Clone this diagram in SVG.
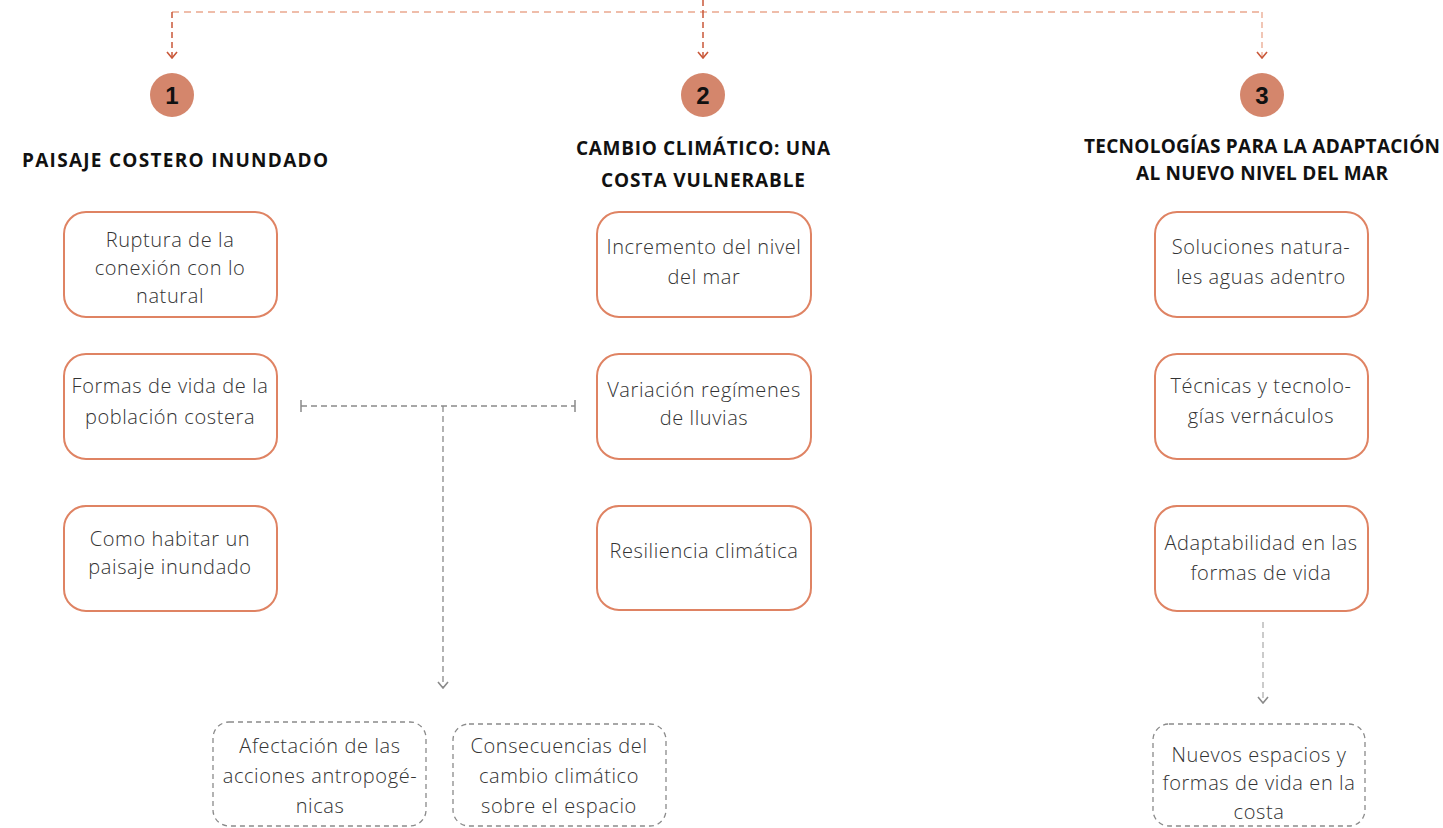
<svg xmlns="http://www.w3.org/2000/svg" width="1443" height="828" viewBox="0 0 1443 828">
<style>
.box{fill:#fff;stroke:#df8363;stroke-width:2}
.dbox{fill:#fff;stroke:#8a8a8a;stroke-width:1.3;stroke-dasharray:5 4}
.t{font-family:"Open Sans","Liberation Sans",sans-serif;font-weight:300;font-size:20px;fill:#333;text-anchor:middle;letter-spacing:0.6px}
.h{font-family:"Open Sans","Liberation Sans",sans-serif;font-weight:700;font-size:19px;fill:#111;text-anchor:middle}
.num{font-family:"Liberation Sans",Arial,sans-serif;font-weight:700;font-size:24px;fill:#111;text-anchor:middle}
.circ{fill:#d4866c}
.top{fill:none;stroke:#eaa88f;stroke-width:1.3;stroke-dasharray:7 5}
.arr{fill:none;stroke:#c9583a;stroke-width:1.5;stroke-dasharray:6 4}
.gl{fill:none;stroke:#8a8a8a;stroke-width:1.3;stroke-dasharray:6 4}
</style>
<defs>
<marker id="ma" viewBox="0 0 8 12" refX="7" refY="6" markerWidth="8" markerHeight="12" markerUnits="userSpaceOnUse" orient="auto">
<path d="M1,1 L7,6 L1,11" fill="none" stroke="#c9583a" stroke-width="1.6"/>
</marker>
<marker id="mg" viewBox="0 0 8 12" refX="7" refY="6" markerWidth="8" markerHeight="12" markerUnits="userSpaceOnUse" orient="auto">
<path d="M1,1 L7,6 L1,11" fill="none" stroke="#8a8a8a" stroke-width="1.6"/>
</marker>
</defs>
<rect width="1443" height="828" fill="#fff"/>

<g id="connectors">
<path class="top" d="M172,12 H1262"/>
<path class="arr" d="M703,0 V12"/>
<path class="arr" d="M172,12 V58" marker-end="url(#ma)"/>
<path class="arr" d="M703,12 V58" marker-end="url(#ma)"/>
<path class="gl" d="M1262,12 V58" style="stroke:#eaa88f" marker-end="url(#ma)"/>
<path class="gl" d="M301,406 H575"/>
<path d="M301,400 V412 M575,400 V412" stroke="#8a8a8a" stroke-width="1.5"/>
<path class="gl" d="M443,406 V688" marker-end="url(#mg)"/>
<path class="gl" d="M1263,622 V703" style="stroke:#b0b0b0" marker-end="url(#mg)"/>
</g>

<g id="n1"><circle class="circ" cx="172" cy="95" r="22"/><text class="num" x="172" y="104">1</text></g>
<g id="n2"><circle class="circ" cx="703" cy="95" r="22"/><text class="num" x="703" y="104">2</text></g>
<g id="n3"><circle class="circ" cx="1262" cy="95" r="22"/><text class="num" x="1262" y="104">3</text></g>

<g id="h1"><text class="h" x="175" y="167" textLength="306" lengthAdjust="spacing">PAISAJE COSTERO INUNDADO</text></g>
<g id="h2"><text class="h" x="703" y="155" textLength="254" lengthAdjust="spacing">CAMBIO CLIMÁTICO: UNA</text><text class="h" x="703" y="187" textLength="204" lengthAdjust="spacing">COSTA VULNERABLE</text></g>
<g id="h3"><text class="h" x="1262" y="153" textLength="356" lengthAdjust="spacing">TECNOLOGÍAS PARA LA ADAPTACIÓN</text><text class="h" x="1262" y="180" textLength="252" lengthAdjust="spacing">AL NUEVO NIVEL DEL MAR</text></g>

<g id="b11"><rect class="box" x="64" y="212" width="213" height="105" rx="22"/>
<text class="t" x="170" y="247">Ruptura de la</text><text class="t" x="170" y="275">conexión con lo</text><text class="t" x="170" y="303">natural</text></g>
<g id="b12"><rect class="box" x="64" y="354" width="213" height="105" rx="22"/>
<text class="t" x="170" y="393">Formas de vida de la</text><text class="t" x="170" y="424">población costera</text></g>
<g id="b13"><rect class="box" x="64" y="506" width="213" height="105" rx="22"/>
<text class="t" x="170" y="546">Como habitar un</text><text class="t" x="170" y="574">paisaje inundado</text></g>

<g id="b21"><rect class="box" x="597" y="212" width="214" height="105" rx="22"/>
<text class="t" x="704" y="254">Incremento del nivel</text><text class="t" x="704" y="284">del mar</text></g>
<g id="b22"><rect class="box" x="597" y="354" width="214" height="105" rx="22"/>
<text class="t" x="704" y="397">Variación regímenes</text><text class="t" x="704" y="425">de lluvias</text></g>
<g id="b23"><rect class="box" x="597" y="506" width="214" height="104" rx="22"/>
<text class="t" x="704" y="558">Resiliencia climática</text></g>

<g id="b31"><rect class="box" x="1155" y="212" width="213" height="105" rx="22"/>
<text class="t" x="1261" y="254">Soluciones natura-</text><text class="t" x="1261" y="284">les aguas adentro</text></g>
<g id="b32"><rect class="box" x="1155" y="354" width="213" height="105" rx="22"/>
<text class="t" x="1261" y="393">Técnicas y tecnolo-</text><text class="t" x="1261" y="423">gías vernáculos</text></g>
<g id="b33"><rect class="box" x="1155" y="506" width="213" height="105" rx="22"/>
<text class="t" x="1261" y="550">Adaptabilidad en las</text><text class="t" x="1261" y="580">formas de vida</text></g>

<g id="d1"><rect class="dbox" x="213" y="722" width="213" height="104" rx="16"/>
<text class="t" x="320" y="753">Afectación de las</text><text class="t" x="320" y="783">acciones antropogé-</text><text class="t" x="320" y="813">nicas</text></g>
<g id="d2"><rect class="dbox" x="453" y="724" width="213" height="102" rx="16"/>
<text class="t" x="559" y="753">Consecuencias del</text><text class="t" x="559" y="783">cambio climático</text><text class="t" x="559" y="813">sobre el espacio</text></g>
<g id="d3"><rect class="dbox" x="1153" y="724" width="212" height="102" rx="16"/>
<text class="t" x="1259" y="762">Nuevos espacios y</text><text class="t" x="1259" y="790">formas de vida en la</text><text class="t" x="1259" y="819">costa</text></g>
</svg>
